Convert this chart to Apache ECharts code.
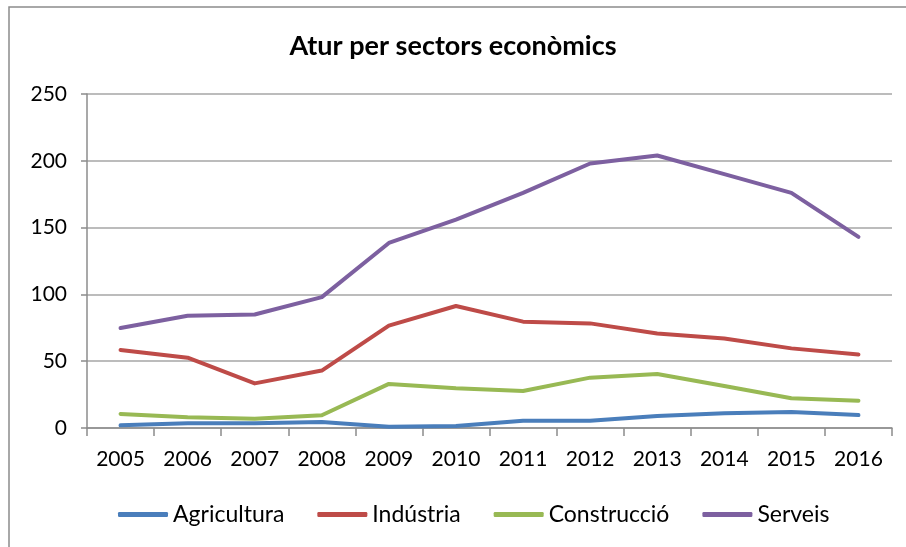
<!DOCTYPE html>
<html lang="ca">
<head>
  <meta charset="utf-8" />
  <title>Atur per sectors econòmics</title>
  <style>
    html, body { margin: 0; padding: 0; background: #fff; }
    #chart { width: 906px; height: 547px; }
  </style>
</head>
<body>
  <div id="chart"></div>
  <script src="https://cdn.jsdelivr.net/npm/echarts@6/dist/echarts.min.js"></script>
  <script>
    // dades
    var years = ['2005', '2006', '2007', '2008', '2009', '2010', '2011', '2012', '2013', '2014', '2015', '2016'];
    var agricultura = [2, 3.5, 3.5, 4.5, 1, 1.5, 5.5, 5.5, 9, 11, 12, 9.7];
    var industria = [58.4, 52.6, 33.4, 43, 76.6, 91.3, 79.6, 78.3, 70.8, 67, 59.6, 55];
    var construccio = [10.5, 8, 7, 9.5, 33, 29.7, 27.7, 37.7, 40.4, 31.4, 22.2, 20.4];
    var serveis = [74.8, 84, 85, 98, 138.5, 156, 176, 198, 204, 190, 176, 143];
    var yTicks = [0, 50, 100, 150, 200, 250];

    var font = 'Lato, "Liberation Sans", sans-serif';
    var chart = echarts.init(document.getElementById('chart'));

    function serie(name, data, color) {
      return {
        name: name,
        type: 'line',
        data: data,
        symbol: 'none',
        smooth: false,
        lineStyle: { color: color, width: 4, cap: 'round', join: 'round' },
        itemStyle: { color: color }
      };
    }

    var option = {
      animation: false,
      backgroundColor: '#fff',
      textStyle: { fontFamily: font },
      graphic: [{
        type: 'rect',
        shape: { x: 9, y: 7, width: 1000, height: 1000 },
        style: { fill: 'none', stroke: '#8c8c8c', lineWidth: 1.5 },
        silent: true
      }],
      title: {
        text: 'Atur per sectors econòmics',
        left: 'center',
        top: 28,
        textStyle: { fontFamily: font, fontSize: 27, fontWeight: 'bold', color: '#000' }
      },
      legend: {
        bottom: 16,
        left: 113,
        itemGap: 33,
        itemWidth: 50,
        itemHeight: 5,
        icon: 'roundRect',
        textStyle: { fontFamily: font, fontSize: 23, color: '#000' },
        data: ['Agricultura', 'Indústria', 'Construcció', 'Serveis']
      },
      grid: { left: 87, right: 14, top: 94, bottom: 119, containLabel: false },
      xAxis: {
        type: 'category',
        data: years,
        boundaryGap: true,
        axisLine: { lineStyle: { color: '#8c8c8c', width: 1.5 } },
        axisTick: { show: true, length: 8, alignWithLabel: false, lineStyle: { color: '#8c8c8c', width: 1.5 } },
        axisLabel: { fontFamily: font, fontSize: 21, color: '#000', margin: 21 }
      },
      yAxis: {
        type: 'value',
        min: yTicks[0],
        max: yTicks[yTicks.length - 1],
        interval: 50,
        axisLine: { show: true, lineStyle: { color: '#8c8c8c', width: 1.5 } },
        axisTick: { show: true, length: 6, lineStyle: { color: '#8c8c8c', width: 1.5 } },
        axisLabel: { fontFamily: font, fontSize: 21, color: '#000', margin: 20 },
        splitLine: { lineStyle: { color: '#a6a6a6', width: 1.5 } }
      },
      series: [
        serie('Agricultura', agricultura, '#4a7ebb'),
        serie('Indústria', industria, '#be4b48'),
        serie('Construcció', construccio, '#98b954'),
        serie('Serveis', serveis, '#7d60a0')
      ]
    };

    chart.setOption(option);
  </script>
</body>
</html>
